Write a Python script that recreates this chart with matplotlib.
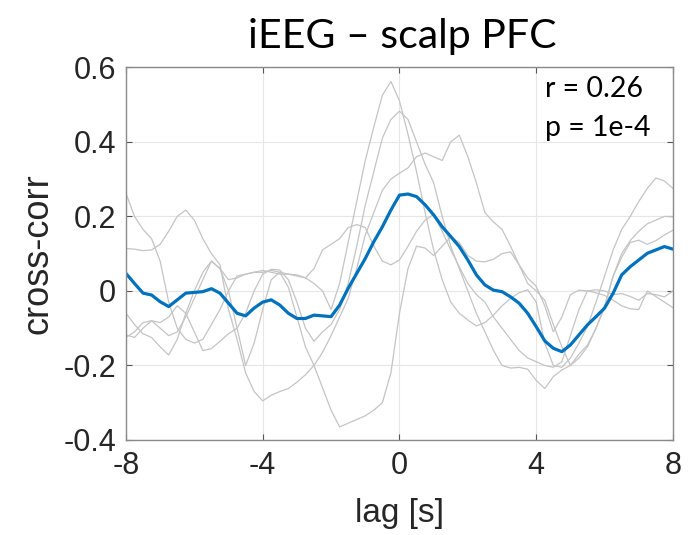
import numpy as np
import matplotlib.pyplot as plt

plt.rcParams['axes.unicode_minus'] = False

#--------------------------------------------------------------------------------
# datos (paso de 0.25 s)
lag = np.arange(-8, 8.01, 0.25)

media = [0.047, 0.020, -0.006, -0.011, -0.029, -0.042, -0.024, -0.006, -0.004,
         -0.002, 0.006, -0.006, -0.033, -0.060, -0.067, -0.046, -0.030, -0.024,
         -0.038, -0.060, -0.074, -0.074, -0.065, -0.067, -0.069, -0.038, 0.007,
         0.047, 0.087, 0.132, 0.172, 0.217, 0.257, 0.260, 0.253, 0.231, 0.204,
         0.172, 0.146, 0.119, 0.083, 0.043, 0.016, 0.002, -0.002, -0.016, -0.033,
         -0.060, -0.096, -0.134, -0.154, -0.163, -0.145, -0.118, -0.091, -0.069,
         -0.046, -0.006, 0.043, 0.065, 0.083, 0.101, 0.110, 0.119, 0.112]

sujeto1 = [-0.060, -0.090, -0.115, -0.125, -0.150, -0.172, -0.130, -0.060, 0.000,
           0.050, 0.080, 0.060, 0.030, 0.035, 0.045, 0.050, 0.050, 0.055, 0.050,
           0.045, 0.043, 0.035, 0.020, 0.000, -0.050, 0.020, 0.130, 0.240, 0.350,
           0.440, 0.525, 0.562, 0.510, 0.420, 0.320, 0.210, 0.110, 0.030, -0.030,
           -0.060, -0.078, -0.094, -0.085, -0.065, -0.040, -0.020, -0.005, 0.003,
           -0.030, -0.140, -0.200, -0.205, -0.180, -0.140, -0.095, -0.030, 0.040,
           0.110, 0.165, 0.200, 0.240, 0.275, 0.303, 0.295, 0.275]

sujeto2 = [-0.118, -0.125, -0.100, -0.080, -0.085, -0.070, -0.040, -0.060, -0.110,
           -0.160, -0.155, -0.135, -0.115, -0.100, -0.060, 0.000, 0.045, 0.058,
           0.056, 0.030, -0.030, -0.100, -0.135, -0.110, -0.090, -0.050, 0.020,
           0.120, 0.230, 0.320, 0.410, 0.460, 0.482, 0.460, 0.400, 0.340, 0.290,
           0.200, 0.120, 0.060, 0.000, -0.060, -0.110, -0.160, -0.200, -0.207,
           -0.205, -0.210, -0.240, -0.262, -0.230, -0.212, -0.200, -0.180, -0.150,
           -0.100, -0.045, 0.040, 0.100, 0.135, 0.160, 0.180, 0.190, 0.200, 0.199]

sujeto3 = [0.114, 0.112, 0.108, 0.110, 0.125, 0.160, 0.200, 0.217, 0.190, 0.140,
           0.100, 0.070, -0.050, -0.130, -0.220, -0.270, -0.295, -0.280, -0.270,
           -0.262, -0.245, -0.225, -0.200, -0.165, -0.120, -0.070, -0.020, 0.060,
           0.150, 0.210, 0.270, 0.300, 0.316, 0.330, 0.360, 0.370, 0.360, 0.350,
           0.400, 0.418, 0.360, 0.290, 0.210, 0.185, 0.165, 0.120, 0.070, 0.035,
           0.012, -0.040, -0.110, -0.070, -0.010, 0.002, 0.000, -0.005, -0.012,
           -0.025, -0.040, -0.048, -0.050, 0.000, -0.015, -0.030, -0.045]

sujeto4 = [-0.125, -0.110, -0.085, -0.080, -0.100, -0.120, -0.110, -0.070, -0.020,
           0.030, 0.080, 0.060, 0.000, -0.100, -0.200, -0.140, -0.050, 0.030, 0.050,
           0.010, -0.070, -0.150, -0.200, -0.260, -0.320, -0.365, -0.355, -0.345,
           -0.335, -0.320, -0.300, -0.220, -0.060, 0.060, 0.120, 0.115, 0.095,
           0.120, 0.145, 0.130, 0.095, 0.080, 0.078, 0.085, 0.100, 0.105, 0.070,
           0.020, 0.000, -0.025, -0.090, -0.150, -0.200, -0.170, -0.145, -0.100,
           -0.040, 0.040, 0.090, 0.130, 0.136, 0.125, 0.135, 0.150, 0.163]

sujeto5 = [0.262, 0.200, 0.165, 0.140, 0.080, -0.030, -0.100, -0.130, -0.140,
           -0.130, -0.090, -0.050, 0.000, 0.040, 0.045, 0.050, 0.055, 0.050, 0.045,
           0.045, 0.040, 0.035, 0.060, 0.110, 0.125, 0.140, 0.170, 0.178, 0.170,
           0.120, 0.080, 0.070, 0.083, 0.120, 0.160, 0.190, 0.205, 0.160, 0.110,
           0.065, 0.020, -0.010, -0.030, -0.070, -0.100, -0.130, -0.160, -0.180,
           -0.190, -0.200, -0.205, -0.190, -0.120, -0.050, 0.000, 0.003, 0.000,
           -0.010, -0.007, -0.015, -0.025, -0.007, -0.010, -0.016, 0.000]

sujetos = [sujeto1, sujeto2, sujeto3, sujeto4, sujeto5]

ticks_x = [-8, -4, 0, 4, 8]
ticks_y = [-0.4, -0.2, 0, 0.2, 0.4, 0.6]
etiquetas_y = ['-0.4', '-0.2', '0', '0.2', '0.4', '0.6']

#--------------------------------------------------------------------------------
fig = plt.figure(figsize=(6.92, 5.35), dpi=100)
ax = fig.add_axes([0.182, 0.1776, 0.7905, 0.6966])

for s in sujetos:
    ax.plot(lag, s, color='#c4c4c4', linewidth=0.9)
ax.plot(lag, media, color='#0072BD', linewidth=2.3)

ax.set_xlim(-8, 8)
ax.set_ylim(-0.4, 0.6)
ax.set_xticks(ticks_x)
ax.set_xticklabels([str(t) for t in ticks_x])
ax.set_yticks(ticks_y)
ax.set_yticklabels(etiquetas_y)
ax.grid(True, color='#e6e6e6', linewidth=0.8)
ax.set_axisbelow(True)

for lado in ax.spines.values():
    lado.set_color('#8a8a8a')
    lado.set_linewidth(1.0)
ax.tick_params(direction='in', length=4, width=0.8, color='#555555',
               top=True, right=True, labelsize=22, labelcolor='#262626')
ax.tick_params(axis='y', pad=7)
ax.tick_params(axis='x', pad=8)
for t in ax.get_xticklabels() + ax.get_yticklabels():
    t.set_fontfamily('Liberation Sans')

ax.set_xlabel('lag [s]', fontsize=24, family='Liberation Sans', color='#262626', va='center')
ax.xaxis.set_label_coords(0.5, -0.196)
ax.set_ylabel('cross-corr', fontsize=26, family='Liberation Sans', color='#262626', va='center')
ax.yaxis.set_label_coords(-0.16, 0.5)

fig.text(402/692, 1-37/535, 'iEEG – scalp PFC', ha='center', va='center',
         fontsize=29.5, family='Lato', color='black')
fig.text(545/692, 1-89/535, 'r = 0.26', ha='left', va='center', fontsize=20.5, family='Lato')
fig.text(545/692, 1-128/535, 'p = 1e-4', ha='left', va='center', fontsize=20.5, family='Lato')

fig.savefig('out.png', dpi=100)
